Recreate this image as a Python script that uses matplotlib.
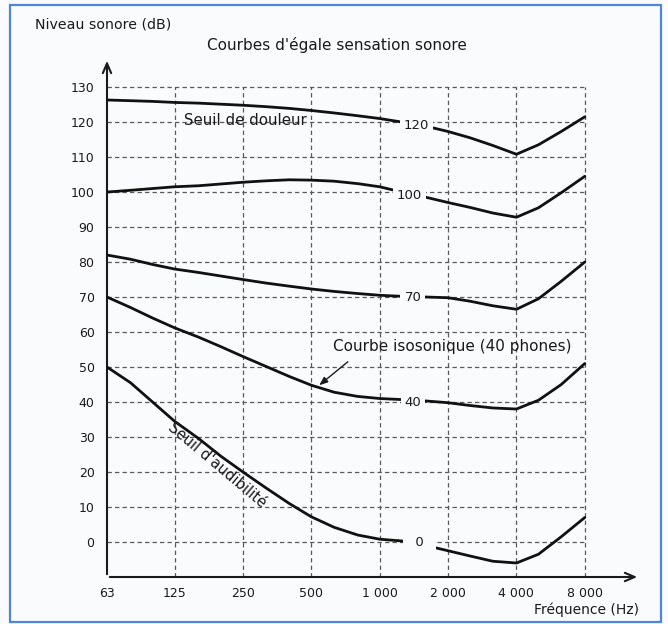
import matplotlib
matplotlib.use("Agg")
import matplotlib.pyplot as plt
from matplotlib.patches import Rectangle

plt.rcParams['font.family'] = ['DejaVu Sans']

# ---------------- data ----------------
freqs = [63, 80, 100, 125, 160, 200, 250, 315, 400, 500, 630, 800, 1000,
         1250, 1600, 2000, 2500, 3150, 4000, 5000, 6300, 8000]
seuil_douleur = [126.3, 126.1, 125.9, 125.6, 125.4, 125.1, 124.8, 124.4, 123.9, 123.3, 122.6, 121.8, 121.0,
                 120.0, 118.8, 117.3, 115.5, 113.3, 110.8, 113.5, 117.3, 121.5]
courbe_100 = [100.0, 100.5, 101.0, 101.5, 101.8, 102.3, 102.8, 103.2, 103.5, 103.4, 103.1, 102.4, 101.5,
              100.0, 98.5, 97.0, 95.6, 94.0, 92.8, 95.5, 99.8, 104.5]
courbe_70 = [82.0, 80.8, 79.3, 78.0, 77.0, 76.0, 75.0, 74.0, 73.1, 72.3, 71.6, 71.0, 70.5,
             70.2, 70.0, 69.8, 68.8, 67.5, 66.5, 69.5, 74.5, 80.0]
courbe_40 = [70.0, 67.0, 64.0, 61.2, 58.5, 55.8, 53.0, 50.2, 47.3, 44.8, 42.8, 41.6, 41.0,
             40.7, 40.3, 39.8, 39.0, 38.3, 38.0, 40.5, 45.0, 51.0]
seuil_audibilite = [50.0, 45.5, 40.0, 34.5, 29.5, 24.5, 20.0, 15.5, 11.0, 7.2, 4.2, 2.0, 0.8,
                    0.3, -1.0, -2.5, -4.0, -5.5, -6.0, -3.5, 1.5, 7.0]

curves = [seuil_douleur, courbe_100, courbe_70, courbe_40, seuil_audibilite]
curve_labels = ["120", "100", "70", "40", "\u20070\u2007"]
curve_label_freqs = [1450, 1350, 1400, 1400, 1500]
curve_label_levels = [119.0, 99.0, 70.0, 40.0, 0.0]

x_ticks = [63, 125, 250, 500, 1000, 2000, 4000, 8000]
x_ticklabels = ["63", "125", "250", "500", "1 000", "2 000", "4 000", "8 000"]
y_ticks = list(range(0, 131, 10))

# ---------------- figure ----------------
W, H = 668, 624
BG = "#fafbfd"
INK = "#1a1a1a"
fig = plt.figure(figsize=(W / 100, H / 100), dpi=100)
fig.patch.set_facecolor(BG)

# blue frame
fig.patches.append(Rectangle((10 / W, 2 / H), (661 - 10) / W, (619 - 2) / H,
                             transform=fig.transFigure, fill=False,
                             edgecolor="#4f86d9", linewidth=1.6))

ax = fig.add_axes([107 / W, 47 / H, (640 - 107) / W, (577 - 58) / H])
ax.set_facecolor("none")
ax.set_xscale("log")
ax.set_xlim(63, 14000)
ax.set_ylim(-10, 138.3)

for s in ax.spines.values():
    s.set_visible(False)

grid_kw = dict(color="#5a5a5a", linewidth=0.9, linestyles=(0, (3.5, 2.5)), zorder=1)
ax.hlines(y_ticks, 63, 8000, **grid_kw)
ax.vlines(x_ticks[1:], -10, 130, **grid_kw)

# axes with arrows
ax.annotate("", xy=(0, 1), xytext=(0, 0), xycoords="axes fraction",
            arrowprops=dict(arrowstyle="->,head_length=0.7,head_width=0.3", lw=1.5, color=INK))
ax.annotate("", xy=(1, 0), xytext=(0, 0), xycoords="axes fraction",
            arrowprops=dict(arrowstyle="->,head_length=0.7,head_width=0.3", lw=1.5, color=INK))

# curves
for vals in curves:
    ax.plot(freqs, vals, color="#111111", lw=2.0, solid_capstyle="round",
            solid_joinstyle="round", zorder=3)

for lab, fx, fy in zip(curve_labels, curve_label_freqs, curve_label_levels):
    ax.text(fx, fy, lab, ha="center", va="center", fontsize=9.5, color=INK,
            bbox=dict(boxstyle="square,pad=0.3", fc=BG, ec="none"), zorder=4)

# ticks
ax.set_xticks(x_ticks)
ax.set_xticklabels(x_ticklabels)
ax.minorticks_off()
ax.set_yticks(y_ticks)
ax.tick_params(axis="both", length=0, labelsize=9, colors=INK)
ax.tick_params(axis="x", pad=7)
ax.tick_params(axis="y", pad=9)

# texts
fig.text(35 / W, 1 - 24 / H, "Niveau sonore (dB)", ha="left", va="center", fontsize=10.2, color=INK)
fig.text(337 / W, 1 - 45 / H, "Courbes d'égale sensation sonore", ha="center", va="center",
         fontsize=11, color=INK)
fig.text(586 / W, 1 - 610 / H, "Fréquence (Hz)", ha="center", va="center", fontsize=10, color=INK)

ax.text(137, 120.3, "Seuil de douleur", ha="left", va="center", fontsize=10.8, color=INK, zorder=4)
ax.text(620, 56, "Courbe isosonique (40 phones)", ha="left", va="center", fontsize=11,
        color=INK, zorder=4)
ax.annotate("", xy=(530, 44.3), xytext=(740, 52),
            arrowprops=dict(arrowstyle="-|>,head_length=0.5,head_width=0.2", lw=1.0, color=INK),
            zorder=4)
ax.text(192, 22, "Seuil d'audibilité", ha="center", va="center", rotation=-40,
        rotation_mode="anchor", fontsize=10.6, color=INK, zorder=4)

fig.savefig("out.png", dpi=100, facecolor=fig.get_facecolor())
